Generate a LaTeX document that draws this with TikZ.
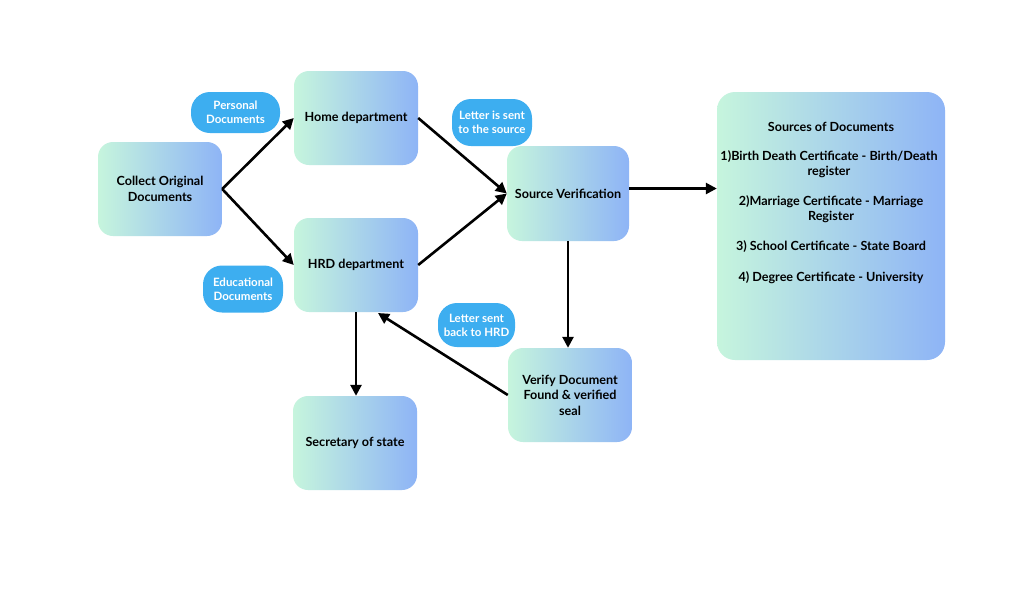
\documentclass[tikz,border=0pt]{standalone}
\usepackage{fontspec}
\setmainfont{Lato}
\usetikzlibrary{arrows.meta}
\definecolor{gA}{HTML}{C6F5DD}
\definecolor{gB}{HTML}{8EB4F6}
\definecolor{pill}{HTML}{3DAEF0}
\begin{document}
\begin{tikzpicture}[x=1pt,y=-1pt,
  box/.style={rounded corners=15pt, left color=gA, right color=gB, draw=none,
    align=center, font=\bfseries\fontsize{12.6}{15.5}\selectfont, inner sep=0pt},
  srctext/.style={font=\bfseries\fontsize{12.6}{15}\selectfont, align=center, inner sep=0pt},
  pillnode/.style={rounded corners=19pt, fill=pill, text=white, align=center,
    font=\bfseries\fontsize{11.5}{14}\selectfont, inner sep=0pt},
  arr/.style={-{Triangle[length=11pt,width=11pt]}, line width=2.6pt, black}]
\useasboundingbox (0,0) rectangle (1024,595);
\fill[white] (0,0) rectangle (1024,595);
% boxes
\node[box, minimum width=124pt, minimum height=94pt] (collect) at (160,189) {Collect Original\\Documents};
\node[box, minimum width=124pt, minimum height=94pt] (home) at (356,118) {Home department};
\node[box, minimum width=124pt, minimum height=94pt] (hrd) at (356,265) {HRD department};
\node[box, minimum width=122pt, minimum height=95pt] (src) at (568,193.5) {Source Verification};
\node[box, minimum width=124pt, minimum height=94pt] (verify) at (570,395) {Verify Document\\Found \& verified\\seal};
\node[box, minimum width=124pt, minimum height=94pt] (sec) at (355,443) {Secretary of state};
\node[box, minimum width=228pt, minimum height=268pt, rounded corners=18pt] (sources) at (831,226) {};
\node[srctext] (s0) at (831,127) {Sources of Documents};
\node[srctext] (s1) at (829,164.5) {1)Birth Death Certificate - Birth/Death\\register};
\node[srctext] (s2) at (831,209.5) {2)Marriage Certificate - Marriage\\Register};
\node[srctext] (s3) at (831,247) {3) School Certificate - State Board};
\node[srctext] (s4) at (831,278) {4) Degree Certificate - University};
% pills
\node[pillnode, minimum width=89pt, minimum height=41pt] (p1) at (235.5,112.5) {Personal\\Documents};
\node[pillnode, minimum width=80pt, minimum height=47pt] (p2) at (243,289) {Educational\\Documents};
\node[pillnode, minimum width=80pt, minimum height=47pt] (p3) at (492,122.5) {Letter is sent\\to the source};
\node[pillnode, minimum width=77pt, minimum height=44pt] (p4) at (476.5,325) {Letter sent\\back to HRD};
% arrows
\draw[arr] (collect.east) -- (home.west);
\draw[arr] (collect.east) -- (hrd.west);
\draw[arr] (home.east) -- (src.west);
\draw[arr] (hrd.east) -- (src.west);
\draw[arr] (src.east) ++(0,-5) coordinate (se) -- (se -| sources.west);
\draw[arr] (src.south) -- (verify.north -| src.south);
\draw[arr] (verify.west) -- (378,313);
\draw[arr] (hrd.south) -- (hrd.south |- sec.north);
\end{tikzpicture}
\end{document}
